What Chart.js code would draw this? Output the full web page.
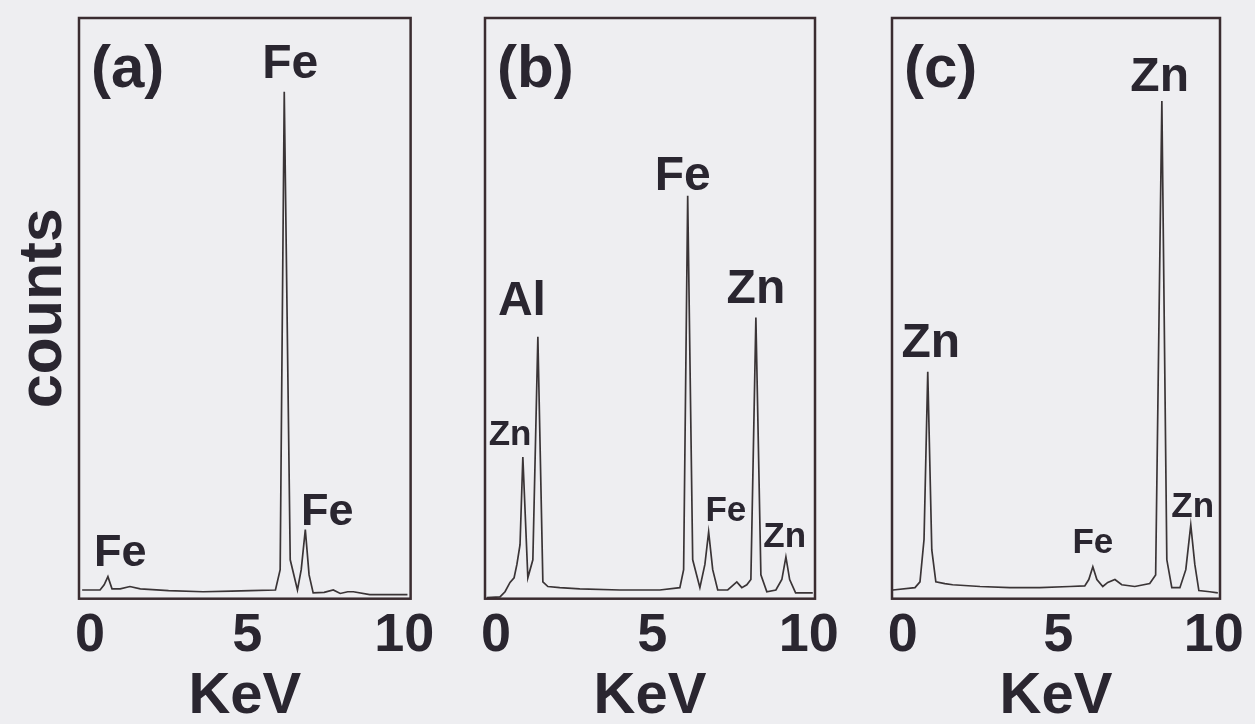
<!DOCTYPE html>
<html>
<head>
<meta charset="utf-8">
<script src="https://cdn.jsdelivr.net/npm/chart.js@4.4.1/dist/chart.umd.min.js"></script>
<style>
  html, body { margin: 0; padding: 0; background: #eeeef1; }
  #wrap { position: relative; width: 1255px; height: 724px; overflow: hidden; }
  canvas { position: absolute; top: 0; }
</style>
</head>
<body>
<div id="wrap">
  <canvas id="specA" width="445" height="724" style="left:0px"></canvas>
  <canvas id="specB" width="410" height="724" style="left:445px"></canvas>
  <canvas id="specC" width="400" height="724" style="left:855px"></canvas>
</div>
<script>
// EDS spectra, energy in keV, counts in arbitrary units (0-100)
var energyA = [-0.25, 0.32, 0.45, 0.57, 0.70, 0.96, 1.27, 1.60, 2.50, 3.60, 4.50, 5.10, 5.90, 6.05, 6.18, 6.37, 6.60, 6.72, 6.85, 6.97, 7.10, 7.45, 7.74, 7.96, 8.20, 8.38, 8.90, 10.10];
var countsA = [1.5, 1.5, 2.4, 3.8, 1.7, 1.7, 2.1, 1.7, 1.4, 1.2, 1.3, 1.4, 1.5, 5.0, 87.3, 6.7, 1.5, 5.0, 11.9, 4.1, 1.0, 1.1, 1.5, 0.9, 1.2, 1.2, 0.7, 0.7];

var energyB = [-0.29, 0.13, 0.29, 0.45, 0.58, 0.67, 0.77, 0.86, 1.02, 1.18, 1.34, 1.50, 1.66, 2.04, 2.68, 3.96, 5.24, 5.88, 6.00, 6.13, 6.29, 6.52, 6.68, 6.80, 6.93, 7.09, 7.41, 7.70, 7.86, 8.02, 8.15, 8.31, 8.47, 8.66, 8.95, 9.14, 9.27, 9.39, 9.58, 10.13];
var countsB = [0.2, 0.3, 1.2, 2.8, 3.6, 5.9, 9.3, 24.4, 3.6, 6.7, 45.1, 2.9, 2.1, 1.9, 1.7, 1.5, 1.5, 1.9, 5.0, 69.4, 6.7, 1.9, 5.9, 11.5, 5.0, 1.5, 1.5, 2.9, 1.9, 2.4, 3.3, 48.4, 4.1, 1.2, 1.5, 3.3, 7.2, 3.3, 1.0, 1.0];

var energyC = [-0.32, 0.39, 0.55, 0.68, 0.80, 0.93, 1.06, 1.35, 1.60, 2.48, 3.44, 4.40, 5.37, 5.85, 5.98, 6.11, 6.24, 6.43, 6.59, 6.82, 7.04, 7.46, 7.94, 8.13, 8.33, 8.49, 8.65, 8.91, 9.10, 9.26, 9.39, 9.52, 9.87, 10.13];
var countsC = [1.5, 1.9, 2.9, 10.2, 39.1, 8.4, 2.9, 2.6, 2.4, 2.1, 1.9, 1.9, 2.1, 2.2, 3.3, 5.5, 3.3, 2.1, 2.8, 3.3, 2.4, 2.1, 2.6, 4.1, 85.7, 6.7, 1.9, 1.9, 5.0, 12.7, 5.9, 1.4, 1.2, 1.0];

var keVTicks = [0, 5, 10];
var panelTags = ['(a)', '(b)', '(c)'];

// element labels sitting above the peaks (keV, counts at text baseline)
var peakLabelsA = [
  {text: 'Fe', kev: 6.37, counts: 89.7, size: 'lg'},
  {text: 'Fe', kev: 0.96, counts: 5.7, size: 'md'},
  {text: 'Fe', kev: 7.55, counts: 12.7, size: 'md'}
];
var peakLabelsB = [
  {text: 'Fe', kev: 5.97, counts: 70.4, size: 'lg'},
  {text: 'Zn', kev: 8.31, counts: 50.9, size: 'lg'},
  {text: 'Al', kev: 0.83, counts: 48.9, size: 'lg'},
  {text: 'Zn', kev: 0.45, counts: 26.5, size: 'sm'},
  {text: 'Fe', kev: 7.35, counts: 13.3, size: 'sm'},
  {text: 'Zn', kev: 9.23, counts: 8.9, size: 'sm'}
];
var peakLabelsC = [
  {text: 'Zn', kev: 8.26, counts: 87.4, size: 'lg'},
  {text: 'Zn', kev: 0.90, counts: 41.7, size: 'lg'},
  {text: 'Fe', kev: 6.11, counts: 7.9, size: 'sm'},
  {text: 'Zn', kev: 9.32, counts: 14.1, size: 'sm'}
];

var fontFamily = '"Liberation Sans", Arial, sans-serif';
var inkColor = '#2a2630';
var traceColor = '#3a3436';
var frameColor = '#3a2c30';
var labelSize = {lg: 48, md: 45, sm: 35};

// frame, panel letter and peak labels
var spectrumDecor = {
  id: 'spectrumDecor',
  afterDatasetsDraw: function(chart, args, opts) {
    var ctx = chart.ctx;
    var a = chart.chartArea;
    var x = chart.scales.x, y = chart.scales.y;
    ctx.save();
    ctx.strokeStyle = frameColor;
    ctx.lineWidth = 2.5;
    ctx.strokeRect(a.left, a.top, a.right - a.left, a.bottom - a.top);
    ctx.fillStyle = inkColor;
    ctx.textBaseline = 'alphabetic';
    ctx.textAlign = 'left';
    ctx.font = 'bold 60px ' + fontFamily;
    ctx.fillText(opts.tag, a.left + 12, a.top + 69);
    ctx.textAlign = 'center';
    opts.peaks.forEach(function(p) {
      ctx.font = 'bold ' + labelSize[p.size] + 'px ' + fontFamily;
      ctx.fillText(p.text, x.getPixelForValue(p.kev), y.getPixelForValue(p.counts));
    });
    ctx.restore();
  }
};

function chartSpectrum(canvasId, energy, counts, tag, peaks, pad, showCounts) {
  var ctx = document.getElementById(canvasId).getContext('2d');
  var points = energy.map(function(e, i) { return {x: e, y: counts[i]}; });
  return new Chart(ctx, {
    type: 'line',
    data: {
      datasets: [{
        data: points,
        borderColor: traceColor,
        borderWidth: 1.7,
        pointRadius: 0,
        fill: false,
        tension: 0
      }]
    },
    plugins: [spectrumDecor],
    options: {
      responsive: false,
      animation: false,
      devicePixelRatio: 1,
      layout: { padding: pad },
      plugins: {
        legend: { display: false },
        tooltip: { enabled: false },
        spectrumDecor: { tag: tag, peaks: peaks }
      },
      scales: {
        x: {
          type: 'linear',
          min: -0.35,
          max: 10.2,
          afterBuildTicks: function(scale) {
            scale.ticks = keVTicks.map(function(v) { return {value: v}; });
          },
          grid: { display: false, drawTicks: false },
          border: { display: false },
          ticks: {
            color: inkColor,
            padding: 10,
            maxRotation: 0,
            autoSkip: false,
            font: { family: fontFamily, weight: 'bold', size: 54, lineHeight: 1 }
          },
          title: {
            display: true,
            text: 'KeV',
            color: inkColor,
            font: { family: fontFamily, weight: 'bold', size: 58, lineHeight: 0.85 },
            padding: { top: 0, bottom: 0 }
          }
        },
        y: {
          min: 0,
          max: 100,
          display: showCounts,
          grid: { display: false, drawTicks: false },
          border: { display: false },
          ticks: { display: false },
          title: {
            display: showCounts,
            text: 'counts',
            color: inkColor,
            font: { family: fontFamily, weight: 'bold', size: 61, lineHeight: 1 },
            padding: { top: 14, bottom: 4 }
          }
        }
      }
    }
  });
}

chartSpectrum('specA', energyA, countsA, panelTags[0], peakLabelsA, {top: 18, left: 0, right: 34, bottom: 2}, true);
chartSpectrum('specB', energyB, countsB, panelTags[1], peakLabelsB, {top: 18, left: 40, right: 40, bottom: 2}, false);
chartSpectrum('specC', energyC, countsC, panelTags[2], peakLabelsC, {top: 18, left: 37, right: 35, bottom: 2}, false);
</script>
</body>
</html>
